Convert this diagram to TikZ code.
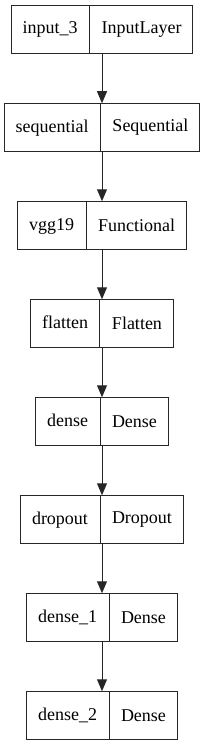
\documentclass[tikz,border=0pt]{standalone}
\usepackage{fontspec}
\setmainfont{Liberation Serif}
\usetikzlibrary{positioning,arrows.meta,shapes.multipart}

\begin{document}
\begin{tikzpicture}[node distance=49.5pt,font=\fontsize{18}{20}\selectfont,
  >={Triangle[length=12pt,width=10pt]}]
  \tikzset{ly/.style={rectangle split,rectangle split horizontal,rectangle split parts=2,
    draw=black!85,line width=1pt,inner xsep=11.5pt,inner ysep=0pt,minimum height=47.5pt,
    text height=13pt,text depth=4pt}}
  \useasboundingbox (0,0) rectangle (204pt,-741pt);
  \node[ly] (inp) at (102pt,-29.5pt) {input\_3\nodepart{two}InputLayer};
  \node[ly,below=of inp] (seq) {sequential\nodepart{two}Sequential};
  \node[ly,below=of seq] (vgg) {vgg19\nodepart{two}Functional};
  \node[ly,below=of vgg] (flat) {flatten\nodepart{two}Flatten};
  \node[ly,below=of flat] (dns) {dense\nodepart{two}Dense};
  \node[ly,below=of dns] (drop) {dropout\nodepart{two}Dropout};
  \node[ly,below=of drop] (dnsa) {dense\_1\nodepart{two}Dense};
  \node[ly,below=of dnsa] (dnsb) {dense\_2\nodepart{two}Dense};
  \foreach \a/\b in {inp/seq,seq/vgg,vgg/flat,flat/dns,dns/drop,drop/dnsa,dnsa/dnsb}
    \draw[->,line width=1pt,black!85] (\a.south) -- (\b.north);
\end{tikzpicture}
\end{document}
